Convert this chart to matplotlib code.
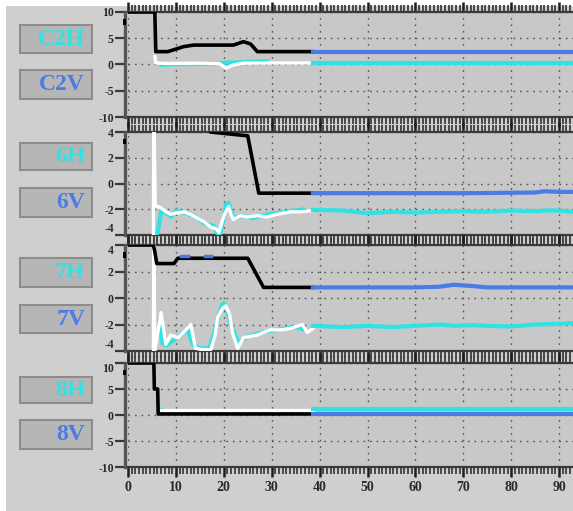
import matplotlib
matplotlib.use('Agg')
import matplotlib.pyplot as plt
from matplotlib.patches import Rectangle
from matplotlib.ticker import MultipleLocator, FixedLocator

W, H = 573, 511

# ---------------- data ----------------
channel_names = ['C2', '6', '7', '8']
y_limits = [(-10, 10), (-4, 4), (-4, 4), (-10, 10)]
y_tick_values = [[-10, -5, 0, 5, 10], [-4, -2, 0, 2, 4], [-4, -2, 0, 2, 4], [-10, -5, 0, 5, 10]]
x_tick_values = [0, 10, 20, 30, 40, 50, 60, 70, 80, 90]

# channel C2
c2_h_x = [0, 5.6, 5.8, 8.3, 11.6, 13.7, 22.0, 24.1, 25.6, 27.0, 38.6]
c2_h_y = [10, 10, 2.45, 2.45, 3.4, 3.7, 3.7, 4.35, 3.9, 2.45, 2.45]
c2_v_x = [5.6, 5.8, 8, 15, 19, 20.5, 22, 24, 30, 38.6]
c2_v_y = [1.5, 0.3, 0.2, 0.25, 0.2, -0.7, -0.1, 0.25, 0.3, 0.3]
c2_vc_x = [6.5, 7.5, 8.5, 13.5, 28.5, 29.5]
c2_vc_y = [0.0, -0.1, 0.0, 0.1, 0.6, 0.6]
c2_live_x = [38.6, 50, 60, 70, 80, 92.9]
c2_live_h = [2.45, 2.45, 2.45, 2.45, 2.45, 2.45]
c2_live_v = [0.3, 0.3, 0.3, 0.3, 0.3, 0.3]

# channel 6
c6_h_x = [0, 16.8, 17.2, 25.0, 27.3, 38.6]
c6_h_y = [6, 6, 4.0, 3.7, -0.75, -0.75]
c6_v_x = [5.3, 5.4, 5.7, 6.9, 8, 8.9, 10, 11.7, 13, 14.5, 16, 17.3, 18.3, 19, 20, 21, 21.6,
          22, 23.5, 25, 27, 29, 31, 34, 36, 38.6]
c6_v_y = [-4.5, 6, -1.7, -1.9, -2.2, -2.4, -2.3, -2.2, -2.4, -2.7, -3.0, -3.4, -3.5, -3.8, -2.5,
          -1.8, -2.5, -2.8, -2.5, -2.6, -2.5, -2.6, -2.4, -2.2, -2.2, -2.1]
c6_vc_x = [5.6, 6.2, 7, 8, 9, 10, 12, 14, 16, 18, 19, 19.5, 20.5, 21, 22, 24, 26, 29, 33, 37]
c6_vc_y = [-4.6, -3.8, -2.0, -2.3, -2.6, -2.1, -2.3, -2.6, -3.1, -3.3, -4.2, -3.5, -1.6, -1.5,
           -2.7, -2.5, -2.7, -2.4, -2.2, -2.0]
c6_live_x = [38.6, 45, 50, 55, 60, 65, 70, 75, 80, 85, 87, 90, 92.9]
c6_live_h = [-0.75, -0.75, -0.75, -0.75, -0.75, -0.75, -0.75, -0.74, -0.72, -0.7, -0.6, -0.65, -0.65]
c6_live_v = [-2.05, -2.1, -2.3, -2.2, -2.25, -2.2, -2.15, -2.2, -2.1, -2.15, -2.1, -2.1, -2.2]

# channel 7
c7_h_x = [0, 5.3, 5.6, 6.0, 9.6, 10.4, 25.0, 28.3, 38.6]
c7_h_y = [4.0, 4.0, 3.5, 2.6, 2.6, 3.0, 3.0, 0.8, 0.8]
c7_hb_x = [11.0, 12.5, 16.0, 17.3]
c7_hb_y = [3.2, 3.2, 3.2, 3.2]
c7_v_x = [5.3, 5.4, 5.6, 6.9, 7.9, 8.9, 10.4, 11.6, 13.1, 14.1, 15.5, 17.3, 18.2, 18.7, 19.7,
          20.4, 21.2, 21.8, 22.9, 24.1, 25.5, 27, 29.7, 32, 33.9, 36.4, 37.4, 38.6]
c7_v_y = [-4.2, 4.2, -4.0, -1.1, -3.5, -2.8, -3.0, -2.6, -2.0, -3.8, -3.9, -3.9, -2.8, -1.5, -0.8,
          -0.6, -1.2, -2.6, -3.8, -3.0, -2.9, -2.8, -2.4, -2.4, -2.3, -2.0, -2.6, -2.3]
c7_vc_x = [6.5, 7.2, 8, 9.5, 11, 12.5, 13.5, 15, 17, 18.5, 19.5, 20, 20.5, 21.5, 23, 25, 28, 31, 35, 37]
c7_vc_y = [-1.5, -3.4, -3.6, -3.2, -2.8, -2.4, -3.5, -3.8, -3.8, -2.0, -0.6, -0.4, -0.7, -2.0,
           -3.4, -2.9, -2.6, -2.4, -2.2, -2.4]
c7_live_x = [38.6, 45, 50, 55, 60, 65, 68, 72, 75, 80, 85, 90, 92.9]
c7_live_h = [0.8, 0.8, 0.8, 0.8, 0.8, 0.85, 1.0, 0.9, 0.8, 0.8, 0.8, 0.8, 0.8]
c7_live_v = [-2.1, -2.2, -2.1, -2.2, -2.1, -2.0, -2.1, -2.05, -2.1, -2.15, -2.0, -1.95, -1.9]

# channel 8
c8_h_x = [0, 5.4, 5.5, 6.2, 6.3, 38.6]
c8_h_y = [10, 10, 5, 5, 0.2, 0.2]
c8_v_x = [6.3, 12, 20, 30, 38.6]
c8_v_y = [1.0, 1.0, 1.0, 1.0, 1.0]
c8_vc_x = [6.5, 7.5]
c8_vc_y = [1.0, 1.0]
c8_live_x = [38.6, 50, 60, 70, 80, 92.9]
c8_live_h = [0.2, 0.2, 0.2, 0.2, 0.2, 0.2]
c8_live_v = [1.1, 1.1, 1.1, 1.1, 1.1, 1.1]

h_x = [c2_h_x, c6_h_x, c7_h_x, c8_h_x]
h_y = [c2_h_y, c6_h_y, c7_h_y, c8_h_y]
v_x = [c2_v_x, c6_v_x, c7_v_x, c8_v_x]
v_y = [c2_v_y, c6_v_y, c7_v_y, c8_v_y]
vc_x = [c2_vc_x, c6_vc_x, c7_vc_x, c8_vc_x]
vc_y = [c2_vc_y, c6_vc_y, c7_vc_y, c8_vc_y]
live_x = [c2_live_x, c6_live_x, c7_live_x, c8_live_x]
live_h = [c2_live_h, c6_live_h, c7_live_h, c8_live_h]
live_v = [c2_live_v, c6_live_v, c7_live_v, c8_live_v]

# ---------------- style ----------------
BLUE = '#4a7be6'
CYAN = '#2fe3e3'
BG = '#cfcfcf'
PLOT_BG = '#c8c8c8'
BOX = '#b6b6b6'
DARK = '#3a3a3a'
FONT = 'Liberation Serif'

# panel pixel extents (top, bottom) and label boxes (top, bottom)
panel_px = [(12, 117), (132, 235), (245, 351), (363, 467)]
box_h_px = [(25, 53), (143, 170), (258, 287), (377, 403)]
box_v_px = [(70, 99), (188, 217), (305, 333), (420, 449)]
X_LEFT, X_RIGHT = 128, 573

fig = plt.figure(figsize=(W / 100, H / 100), dpi=100)
fig.patch.set_facecolor('white')
fig.add_artist(Rectangle((6 / W, 0), 1, 1 - 6 / H, transform=fig.transFigure,
                         facecolor=BG, edgecolor='none', zorder=-10))


def fig_rect(x0, y0, x1, y1):
    return (x0 / W, 1 - y1 / H, (x1 - x0) / W, (y1 - y0) / H)


def style_labels(labels):
    for lab in labels:
        lab.set_fontfamily(FONT)
        lab.set_fontweight('bold')
        lab.set_color('#2a2a2a')


for i in range(4):
    top, bot = panel_px[i]
    ax = fig.add_axes(fig_rect(X_LEFT, top, X_RIGHT, bot))
    ax.set_facecolor(PLOT_BG)
    ax.set_xlim(0, 92.9)
    ax.set_ylim(*y_limits[i])

    # spines
    ax.spines['right'].set_visible(False)
    ax.spines['left'].set_position(('outward', 2.2))
    ax.spines['left'].set_linewidth(2.4)
    ax.spines['left'].set_color('#555555')
    for s in ('top', 'bottom'):
        ax.spines[s].set_linewidth(1.6)
        ax.spines[s].set_color(DARK)

    # ticks (ruler look)
    ax.xaxis.set_major_locator(FixedLocator(x_tick_values))
    ax.xaxis.set_minor_locator(MultipleLocator(10 / 13))
    ax.yaxis.set_major_locator(FixedLocator(y_tick_values[i]))
    ax.tick_params(axis='x', which='major', direction='out', length=7, width=1.8,
                   color='#202020', top=True, bottom=True,
                   labelbottom=(i == 3), labelsize=10, pad=3)
    ax.tick_params(axis='x', which='minor', direction='out', length=5, width=1.3,
                   color='#404040', top=True, bottom=True)
    ax.tick_params(axis='y', which='major', direction='out', length=7, width=1.6,
                   color=DARK, labelsize=8.5, pad=1)
    ax.set_yticklabels([str(v) for v in y_tick_values[i]])
    ylabels = ax.get_yticklabels()
    style_labels(ylabels)
    # keep the end labels of neighbouring panels apart
    if i in (1, 2):
        ylabels[0].set_verticalalignment('bottom')
    if i in (2, 3):
        ylabels[-1].set_verticalalignment('top')
    if i == 3:
        ax.set_xticklabels([str(v) for v in x_tick_values])
        style_labels(ax.get_xticklabels())

    # grid
    ax.grid(True, which='major', axis='both', color='#555555', linestyle=(0, (1.2, 3.5)),
            linewidth=1.0)
    ax.set_axisbelow(True)

    # history traces
    ax.plot(vc_x[i], vc_y[i], color=CYAN, lw=3.0, solid_capstyle='butt', zorder=3)
    ax.plot(v_x[i], v_y[i], color='white', lw=2.4, zorder=4)
    ax.plot(h_x[i], h_y[i], color='black', lw=2.6, zorder=5)
    if i == 2:
        ax.plot(c7_hb_x[:2], c7_hb_y[:2], color=BLUE, lw=2.5, zorder=5)
        ax.plot(c7_hb_x[2:], c7_hb_y[2:], color=BLUE, lw=2.5, zorder=5)
    # live traces
    ax.plot(live_x[i], live_h[i], color=BLUE, lw=3.0, zorder=6)
    ax.plot(live_x[i], live_v[i], color=CYAN, lw=3.0, zorder=6)

    # small marker on the axis line
    ax.add_patch(Rectangle((-0.012, 0.88), 0.008, 0.05, transform=ax.transAxes,
                           facecolor='black', edgecolor='none', clip_on=False, zorder=10))

    # channel label boxes
    for (bt, bb), suffix, col in ((box_h_px[i], 'H', CYAN), (box_v_px[i], 'V', BLUE)):
        fig.add_artist(Rectangle(fig_rect(20, bt, 92, bb)[:2], 72 / W, (bb - bt) / H,
                                 transform=fig.transFigure, facecolor=BOX,
                                 edgecolor='#8c8c8c', linewidth=1.5))
        fig.text(85 / W, 1 - ((bt + bb) / 2) / H, channel_names[i] + suffix,
                 ha='right', va='center', color=col, fontsize=17,
                 fontfamily=FONT, fontweight='bold')

fig.savefig('out.png', dpi=100, facecolor=fig.get_facecolor())
